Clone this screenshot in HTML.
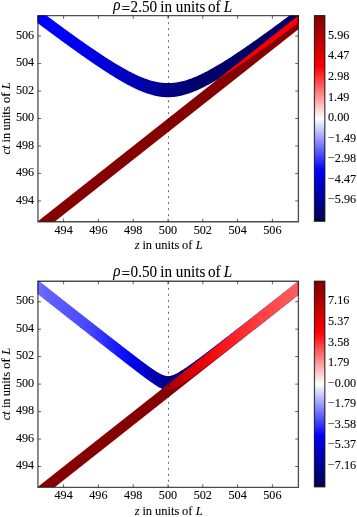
<!DOCTYPE html><html><head><meta charset="utf-8"><style>html,body{margin:0;padding:0;background:#fff;}svg{display:block;will-change:transform;}text{font-family:"Liberation Serif", serif;font-size:12.2px;fill:#000;stroke:#000;stroke-width:0.08px;}</style></head><body>
<svg width="357" height="517" viewBox="0 0 357 517">
<rect width="357" height="517" fill="#fff"/>
<defs><linearGradient id="gbt" gradientUnits="userSpaceOnUse" x1="37.5" y1="0" x2="298.5" y2="0"><stop offset="0.0019" stop-color="rgb(0,0,255)"/><stop offset="0.0862" stop-color="rgb(0,0,250)"/><stop offset="0.2011" stop-color="rgb(0,0,232)"/><stop offset="0.3161" stop-color="rgb(0,0,200)"/><stop offset="0.4310" stop-color="rgb(0,0,160)"/><stop offset="0.5000" stop-color="rgb(0,0,136)"/><stop offset="0.5920" stop-color="rgb(0,0,113)"/><stop offset="0.6686" stop-color="rgb(0,0,103)"/><stop offset="0.7989" stop-color="rgb(0,0,100)"/><stop offset="0.9992" stop-color="rgb(0,0,104)"/></linearGradient><linearGradient id="got" gradientUnits="userSpaceOnUse" x1="37.5" y1="0" x2="298.5" y2="0"><stop offset="0.0019" stop-color="rgb(250,0,0)"/><stop offset="0.9992" stop-color="rgb(250,0,0)"/></linearGradient><linearGradient id="gbb" gradientUnits="userSpaceOnUse" x1="37.5" y1="0" x2="298.5" y2="0"><stop offset="0.0019" stop-color="rgb(112,112,255)"/><stop offset="0.0287" stop-color="rgb(100,100,255)"/><stop offset="0.2011" stop-color="rgb(70,70,255)"/><stop offset="0.3161" stop-color="rgb(20,20,250)"/><stop offset="0.3736" stop-color="rgb(0,0,235)"/><stop offset="0.4119" stop-color="rgb(0,0,205)"/><stop offset="0.4502" stop-color="rgb(0,0,175)"/><stop offset="0.4885" stop-color="rgb(0,0,140)"/><stop offset="0.5153" stop-color="rgb(0,0,125)"/><stop offset="0.6226" stop-color="rgb(0,0,150)"/><stop offset="0.7069" stop-color="rgb(0,0,205)"/><stop offset="0.7950" stop-color="rgb(80,80,255)"/><stop offset="0.9992" stop-color="rgb(150,150,255)"/></linearGradient><linearGradient id="gob" gradientUnits="userSpaceOnUse" x1="37.5" y1="0" x2="298.5" y2="0"><stop offset="0.0019" stop-color="rgb(160,0,0)"/><stop offset="0.5000" stop-color="rgb(160,0,0)"/><stop offset="0.5268" stop-color="rgb(175,0,0)"/><stop offset="0.5651" stop-color="rgb(205,0,0)"/><stop offset="0.6226" stop-color="rgb(230,0,0)"/><stop offset="0.7414" stop-color="rgb(255,30,30)"/><stop offset="0.8563" stop-color="rgb(255,65,65)"/><stop offset="0.9992" stop-color="rgb(255,95,95)"/></linearGradient><linearGradient id="cb0" x1="0" y1="1" x2="0" y2="0"><stop offset="0" stop-color="#00004d"/><stop offset="0.25" stop-color="#0000ff"/><stop offset="0.5" stop-color="#ffffff"/><stop offset="0.75" stop-color="#ff0000"/><stop offset="1" stop-color="#800000"/></linearGradient><clipPath id="clip0"><rect x="37.5" y="15.5" width="261" height="206"/></clipPath><linearGradient id="cb1" x1="0" y1="1" x2="0" y2="0"><stop offset="0" stop-color="#00004d"/><stop offset="0.25" stop-color="#0000ff"/><stop offset="0.5" stop-color="#ffffff"/><stop offset="0.75" stop-color="#ff0000"/><stop offset="1" stop-color="#800000"/></linearGradient><clipPath id="clip1"><rect x="37.5" y="281.1" width="261" height="206"/></clipPath></defs>
<g clip-path="url(#clip0)">
<path d="M11.4 242.1 L324.6 -5.1 L324.6 8.63 L11.4 255.83 Z" fill="rgb(133,0,0)"/>
<path d="M16.62 -6.91 L17.49 -6.25 L18.36 -5.59 L19.23 -4.94 L20.1 -4.28 L20.97 -3.62 L21.84 -2.96 L22.71 -2.3 L23.58 -1.64 L24.45 -0.99 L25.32 -0.33 L26.19 0.33 L27.06 0.98 L27.93 1.64 L28.8 2.3 L29.67 2.95 L30.54 3.61 L31.41 4.26 L32.28 4.91 L33.15 5.57 L34.02 6.22 L34.89 6.87 L35.76 7.53 L36.63 8.18 L37.5 8.83 L38.37 9.48 L39.24 10.13 L40.11 10.78 L40.98 11.43 L41.85 12.08 L42.72 12.73 L43.59 13.38 L44.46 14.03 L45.33 14.67 L46.2 15.32 L47.07 15.97 L47.94 16.61 L48.81 17.26 L49.68 17.9 L50.55 18.55 L51.42 19.19 L52.29 19.83 L53.16 20.48 L54.03 21.12 L54.9 21.76 L55.77 22.4 L56.64 23.04 L57.51 23.68 L58.38 24.32 L59.25 24.96 L60.12 25.59 L60.99 26.23 L61.86 26.87 L62.73 27.5 L63.6 28.13 L64.47 28.77 L65.34 29.4 L66.21 30.03 L67.08 30.66 L67.95 31.29 L68.82 31.92 L69.69 32.55 L70.56 33.18 L71.43 33.81 L72.3 34.43 L73.17 35.06 L74.04 35.68 L74.91 36.3 L75.78 36.92 L76.65 37.54 L77.52 38.16 L78.39 38.78 L79.26 39.4 L80.13 40.01 L81 40.63 L81.87 41.24 L82.74 41.86 L83.61 42.47 L84.48 43.08 L85.35 43.68 L86.22 44.29 L87.09 44.9 L87.96 45.5 L88.83 46.1 L89.7 46.7 L90.57 47.3 L91.44 47.9 L92.31 48.5 L93.18 49.09 L94.05 49.69 L94.92 50.28 L95.79 50.87 L96.66 51.45 L97.53 52.04 L98.4 52.62 L99.27 53.2 L100.14 53.78 L101.01 54.36 L101.88 54.93 L102.75 55.51 L103.62 56.08 L104.49 56.64 L105.36 57.21 L106.23 57.77 L107.1 58.33 L107.97 58.89 L108.84 59.44 L109.71 60 L110.58 60.54 L111.45 61.09 L112.32 61.63 L113.19 62.17 L114.06 62.71 L114.93 63.24 L115.8 63.77 L116.67 64.3 L117.54 64.82 L118.41 65.34 L119.28 65.85 L120.15 66.36 L121.02 66.87 L121.89 67.37 L122.76 67.87 L123.63 68.36 L124.5 68.85 L125.37 69.33 L126.24 69.81 L127.11 70.28 L127.98 70.75 L128.85 71.21 L129.72 71.67 L130.59 72.12 L131.46 72.56 L132.33 73 L133.2 73.43 L134.07 73.86 L134.94 74.28 L135.81 74.69 L136.68 75.09 L137.55 75.49 L138.42 75.88 L139.29 76.26 L140.16 76.64 L141.03 77 L141.9 77.36 L142.77 77.71 L143.64 78.05 L144.51 78.38 L145.38 78.7 L146.25 79.02 L147.12 79.32 L147.99 79.61 L148.86 79.89 L149.73 80.16 L150.6 80.42 L151.47 80.67 L152.34 80.91 L153.21 81.14 L154.08 81.35 L154.95 81.56 L155.82 81.75 L156.69 81.93 L157.56 82.09 L158.43 82.25 L159.3 82.39 L160.17 82.52 L161.04 82.63 L161.91 82.73 L162.78 82.82 L163.65 82.9 L164.52 82.96 L165.39 83.01 L166.26 83.04 L167.13 83.06 L168 83.07 L168.87 83.06 L169.74 83.04 L170.61 83.01 L171.48 82.96 L172.35 82.9 L173.22 82.82 L174.09 82.73 L174.96 82.63 L175.83 82.52 L176.7 82.39 L177.57 82.25 L178.44 82.09 L179.31 81.93 L180.18 81.75 L181.05 81.56 L181.92 81.35 L182.79 81.14 L183.66 80.91 L184.53 80.67 L185.4 80.42 L186.27 80.16 L187.14 79.89 L188.01 79.61 L188.88 79.32 L189.75 79.02 L190.62 78.7 L191.49 78.38 L192.36 78.05 L193.23 77.71 L194.1 77.36 L194.97 77 L195.84 76.64 L196.71 76.26 L197.58 75.88 L198.45 75.49 L199.32 75.09 L200.19 74.69 L201.06 74.28 L201.93 73.86 L202.8 73.43 L203.67 73 L204.54 72.56 L205.41 72.12 L206.28 71.67 L207.15 71.21 L208.02 70.75 L208.89 70.28 L209.76 69.81 L210.63 69.33 L211.5 68.85 L212.37 68.36 L213.24 67.87 L214.11 67.37 L214.98 66.87 L215.85 66.36 L216.72 65.85 L217.59 65.34 L218.46 64.82 L219.33 64.3 L220.2 63.77 L221.07 63.24 L221.94 62.71 L222.81 62.17 L223.68 61.63 L224.55 61.09 L225.42 60.54 L226.29 60 L227.16 59.44 L228.03 58.89 L228.9 58.33 L229.77 57.77 L230.64 57.21 L231.51 56.64 L232.38 56.08 L233.25 55.51 L234.12 54.93 L234.99 54.36 L235.86 53.78 L236.73 53.2 L237.6 52.62 L238.47 52.04 L239.34 51.45 L240.21 50.87 L241.08 50.28 L241.95 49.69 L242.82 49.09 L243.69 48.5 L244.56 47.9 L245.43 47.3 L246.3 46.7 L247.17 46.1 L248.04 45.5 L248.91 44.9 L249.78 44.29 L250.65 43.68 L251.52 43.08 L252.39 42.47 L253.26 41.86 L254.13 41.24 L255 40.63 L255.87 40.01 L256.74 39.4 L257.61 38.78 L258.48 38.16 L259.35 37.54 L260.22 36.92 L261.09 36.3 L261.96 35.68 L262.83 35.06 L263.7 34.43 L264.57 33.81 L265.44 33.18 L266.31 32.55 L267.18 31.92 L268.05 31.29 L268.92 30.66 L269.79 30.03 L270.66 29.4 L271.53 28.77 L272.4 28.13 L273.27 27.5 L274.14 26.87 L275.01 26.23 L275.88 25.59 L276.75 24.96 L277.62 24.32 L278.49 23.68 L279.36 23.04 L280.23 22.4 L281.1 21.76 L281.97 21.12 L282.84 20.48 L283.71 19.83 L284.58 19.19 L285.45 18.55 L286.32 17.9 L287.19 17.26 L288.06 16.61 L288.93 15.97 L289.8 15.32 L290.67 14.67 L291.54 14.03 L292.41 13.38 L293.28 12.73 L294.15 12.08 L295.02 11.43 L295.89 10.78 L296.76 10.13 L297.63 9.48 L298.5 8.83 L299.37 8.18 L300.24 7.53 L301.11 6.87 L301.98 6.22 L302.85 5.57 L303.72 4.91 L304.59 4.26 L305.46 3.61 L306.33 2.95 L307.2 2.3 L308.07 1.64 L308.94 0.98 L309.81 0.33 L310.68 -0.33 L311.55 -0.99 L312.42 -1.64 L313.29 -2.3 L314.16 -2.96 L315.03 -3.62 L315.9 -4.28 L316.77 -4.94 L317.64 -5.59 L318.51 -6.25 L318.51 7.89 L317.64 8.55 L316.77 9.21 L315.9 9.87 L315.03 10.53 L314.16 11.19 L313.29 11.84 L312.42 12.5 L311.55 13.16 L310.68 13.82 L309.81 14.47 L308.94 15.13 L308.07 15.78 L307.2 16.44 L306.33 17.1 L305.46 17.75 L304.59 18.4 L303.72 19.06 L302.85 19.71 L301.98 20.37 L301.11 21.02 L300.24 21.67 L299.37 22.32 L298.5 22.98 L297.63 23.63 L296.76 24.28 L295.89 24.93 L295.02 25.58 L294.15 26.23 L293.28 26.88 L292.41 27.52 L291.54 28.17 L290.67 28.82 L289.8 29.47 L288.93 30.11 L288.06 30.76 L287.19 31.4 L286.32 32.05 L285.45 32.69 L284.58 33.34 L283.71 33.98 L282.84 34.62 L281.97 35.26 L281.1 35.91 L280.23 36.55 L279.36 37.19 L278.49 37.82 L277.62 38.46 L276.75 39.1 L275.88 39.74 L275.01 40.38 L274.14 41.01 L273.27 41.65 L272.4 42.28 L271.53 42.91 L270.66 43.55 L269.79 44.18 L268.92 44.81 L268.05 45.44 L267.18 46.07 L266.31 46.7 L265.44 47.32 L264.57 47.95 L263.7 48.58 L262.83 49.2 L261.96 49.82 L261.09 50.45 L260.22 51.07 L259.35 51.69 L258.48 52.31 L257.61 52.93 L256.74 53.54 L255.87 54.16 L255 54.77 L254.13 55.39 L253.26 56 L252.39 56.61 L251.52 57.22 L250.65 57.83 L249.78 58.44 L248.91 59.04 L248.04 59.65 L247.17 60.25 L246.3 60.85 L245.43 61.45 L244.56 62.05 L243.69 62.64 L242.82 63.24 L241.95 63.83 L241.08 64.42 L240.21 65.01 L239.34 65.6 L238.47 66.18 L237.6 66.77 L236.73 67.35 L235.86 67.93 L234.99 68.5 L234.12 69.08 L233.25 69.65 L232.38 70.22 L231.51 70.79 L230.64 71.35 L229.77 71.92 L228.9 72.48 L228.03 73.03 L227.16 73.59 L226.29 74.14 L225.42 74.69 L224.55 75.24 L223.68 75.78 L222.81 76.32 L221.94 76.85 L221.07 77.39 L220.2 77.92 L219.33 78.44 L218.46 78.96 L217.59 79.48 L216.72 80 L215.85 80.51 L214.98 81.01 L214.11 81.51 L213.24 82.01 L212.37 82.5 L211.5 82.99 L210.63 83.48 L209.76 83.95 L208.89 84.43 L208.02 84.89 L207.15 85.36 L206.28 85.81 L205.41 86.26 L204.54 86.71 L203.67 87.15 L202.8 87.58 L201.93 88 L201.06 88.42 L200.19 88.84 L199.32 89.24 L198.45 89.64 L197.58 90.03 L196.71 90.41 L195.84 90.78 L194.97 91.15 L194.1 91.51 L193.23 91.86 L192.36 92.2 L191.49 92.53 L190.62 92.85 L189.75 93.16 L188.88 93.46 L188.01 93.76 L187.14 94.04 L186.27 94.31 L185.4 94.57 L184.53 94.82 L183.66 95.06 L182.79 95.28 L181.92 95.5 L181.05 95.7 L180.18 95.89 L179.31 96.07 L178.44 96.24 L177.57 96.39 L176.7 96.53 L175.83 96.66 L174.96 96.78 L174.09 96.88 L173.22 96.97 L172.35 97.04 L171.48 97.1 L170.61 97.15 L169.74 97.19 L168.87 97.21 L168 97.21 L167.13 97.21 L166.26 97.19 L165.39 97.15 L164.52 97.1 L163.65 97.04 L162.78 96.97 L161.91 96.88 L161.04 96.78 L160.17 96.66 L159.3 96.53 L158.43 96.39 L157.56 96.24 L156.69 96.07 L155.82 95.89 L154.95 95.7 L154.08 95.5 L153.21 95.28 L152.34 95.06 L151.47 94.82 L150.6 94.57 L149.73 94.31 L148.86 94.04 L147.99 93.76 L147.12 93.46 L146.25 93.16 L145.38 92.85 L144.51 92.53 L143.64 92.2 L142.77 91.86 L141.9 91.51 L141.03 91.15 L140.16 90.78 L139.29 90.41 L138.42 90.03 L137.55 89.64 L136.68 89.24 L135.81 88.84 L134.94 88.42 L134.07 88 L133.2 87.58 L132.33 87.15 L131.46 86.71 L130.59 86.26 L129.72 85.81 L128.85 85.36 L127.98 84.89 L127.11 84.43 L126.24 83.95 L125.37 83.48 L124.5 82.99 L123.63 82.5 L122.76 82.01 L121.89 81.51 L121.02 81.01 L120.15 80.51 L119.28 80 L118.41 79.48 L117.54 78.96 L116.67 78.44 L115.8 77.92 L114.93 77.39 L114.06 76.85 L113.19 76.32 L112.32 75.78 L111.45 75.24 L110.58 74.69 L109.71 74.14 L108.84 73.59 L107.97 73.03 L107.1 72.48 L106.23 71.92 L105.36 71.35 L104.49 70.79 L103.62 70.22 L102.75 69.65 L101.88 69.08 L101.01 68.5 L100.14 67.93 L99.27 67.35 L98.4 66.77 L97.53 66.18 L96.66 65.6 L95.79 65.01 L94.92 64.42 L94.05 63.83 L93.18 63.24 L92.31 62.64 L91.44 62.05 L90.57 61.45 L89.7 60.85 L88.83 60.25 L87.96 59.65 L87.09 59.04 L86.22 58.44 L85.35 57.83 L84.48 57.22 L83.61 56.61 L82.74 56 L81.87 55.39 L81 54.77 L80.13 54.16 L79.26 53.54 L78.39 52.93 L77.52 52.31 L76.65 51.69 L75.78 51.07 L74.91 50.45 L74.04 49.82 L73.17 49.2 L72.3 48.58 L71.43 47.95 L70.56 47.32 L69.69 46.7 L68.82 46.07 L67.95 45.44 L67.08 44.81 L66.21 44.18 L65.34 43.55 L64.47 42.91 L63.6 42.28 L62.73 41.65 L61.86 41.01 L60.99 40.38 L60.12 39.74 L59.25 39.1 L58.38 38.46 L57.51 37.82 L56.64 37.19 L55.77 36.55 L54.9 35.91 L54.03 35.26 L53.16 34.62 L52.29 33.98 L51.42 33.34 L50.55 32.69 L49.68 32.05 L48.81 31.4 L47.94 30.76 L47.07 30.11 L46.2 29.47 L45.33 28.82 L44.46 28.17 L43.59 27.52 L42.72 26.88 L41.85 26.23 L40.98 25.58 L40.11 24.93 L39.24 24.28 L38.37 23.63 L37.5 22.98 L36.63 22.32 L35.76 21.67 L34.89 21.02 L34.02 20.37 L33.15 19.71 L32.28 19.06 L31.41 18.4 L30.54 17.75 L29.67 17.1 L28.8 16.44 L27.93 15.78 L27.06 15.13 L26.19 14.47 L25.32 13.82 L24.45 13.16 L23.58 12.5 L22.71 11.84 L21.84 11.19 L20.97 10.53 L20.1 9.87 L19.23 9.21 L18.36 8.55 L17.49 7.89 L16.62 7.23 Z" fill="url(#gbt)"/>
<path d="M217.59 79.36 L218.46 78.67 L219.33 77.99 L220.2 77.3 L221.07 76.61 L221.94 75.93 L222.81 75.24 L223.68 74.55 L224.55 73.87 L225.42 73.18 L226.29 72.49 L227.16 71.81 L228.03 71.12 L228.9 70.43 L229.77 69.75 L230.64 69.06 L231.51 68.37 L232.38 67.69 L233.25 67 L234.12 66.31 L234.99 65.63 L235.86 64.94 L236.73 64.25 L237.6 63.57 L238.47 62.88 L239.34 62.19 L240.21 61.51 L241.08 60.82 L241.95 60.13 L242.82 59.45 L243.69 58.76 L244.56 58.07 L245.43 57.39 L246.3 56.7 L247.17 56.01 L248.04 55.33 L248.91 54.64 L249.78 53.95 L250.65 53.27 L251.52 52.58 L252.39 51.89 L253.26 51.21 L254.13 50.52 L255 49.83 L255.87 49.15 L256.74 48.46 L257.61 47.77 L258.48 47.09 L259.35 46.4 L260.22 45.71 L261.09 45.03 L261.96 44.34 L262.83 43.65 L263.7 42.97 L264.57 42.28 L265.44 41.59 L266.31 40.91 L267.18 40.22 L268.05 39.53 L268.92 38.85 L269.79 38.16 L270.66 37.47 L271.53 36.79 L272.4 36.1 L273.27 35.41 L274.14 34.73 L275.01 34.04 L275.88 33.35 L276.75 32.67 L277.62 31.98 L278.49 31.29 L279.36 30.61 L280.23 29.92 L281.1 29.23 L281.97 28.55 L282.84 27.86 L283.71 27.17 L284.58 26.49 L285.45 25.8 L286.32 25.11 L287.19 24.43 L288.06 23.74 L288.93 23.05 L289.8 22.37 L290.67 21.68 L291.54 20.99 L292.41 20.31 L293.28 19.62 L294.15 18.93 L295.02 18.25 L295.89 17.56 L296.76 16.87 L297.63 16.19 L298.5 15.5 L299.37 14.81 L300.24 14.13 L301.11 13.44 L301.98 12.75 L302.85 12.07 L303.72 11.38 L304.59 10.69 L305.46 10.01 L306.33 9.32 L307.2 8.63 L308.07 7.95 L308.94 7.26 L309.81 6.57 L310.68 5.89 L311.55 5.2 L312.42 4.51 L313.29 3.83 L314.16 3.14 L315.03 2.45 L315.9 1.77 L316.77 1.08 L317.64 0.39 L318.51 -0.29 L318.51 7.89 L317.64 8.55 L316.77 9.21 L315.9 9.87 L315.03 10.53 L314.16 11.19 L313.29 11.84 L312.42 12.5 L311.55 13.16 L310.68 13.82 L309.81 14.47 L308.94 15.13 L308.07 15.78 L307.2 16.44 L306.33 17.1 L305.46 17.75 L304.59 18.4 L303.72 19.06 L302.85 19.71 L301.98 20.37 L301.11 21.02 L300.24 21.67 L299.37 22.32 L298.5 22.98 L297.63 23.63 L296.76 24.28 L295.89 24.93 L295.02 25.58 L294.15 26.23 L293.28 26.88 L292.41 27.52 L291.54 28.17 L290.67 28.82 L289.8 29.47 L288.93 30.11 L288.06 30.76 L287.19 31.4 L286.32 32.05 L285.45 32.69 L284.58 33.34 L283.71 33.98 L282.84 34.62 L281.97 35.26 L281.1 35.91 L280.23 36.55 L279.36 37.19 L278.49 37.82 L277.62 38.46 L276.75 39.1 L275.88 39.74 L275.01 40.38 L274.14 41.01 L273.27 41.65 L272.4 42.28 L271.53 42.91 L270.66 43.55 L269.79 44.18 L268.92 44.81 L268.05 45.44 L267.18 46.07 L266.31 46.7 L265.44 47.32 L264.57 47.95 L263.7 48.58 L262.83 49.2 L261.96 49.82 L261.09 50.45 L260.22 51.07 L259.35 51.69 L258.48 52.31 L257.61 52.93 L256.74 53.54 L255.87 54.16 L255 54.77 L254.13 55.39 L253.26 56 L252.39 56.61 L251.52 57.22 L250.65 57.83 L249.78 58.44 L248.91 59.04 L248.04 59.65 L247.17 60.25 L246.3 60.85 L245.43 61.45 L244.56 62.05 L243.69 62.64 L242.82 63.24 L241.95 63.83 L241.08 64.42 L240.21 65.01 L239.34 65.6 L238.47 66.18 L237.6 66.77 L236.73 67.35 L235.86 67.93 L234.99 68.5 L234.12 69.08 L233.25 69.65 L232.38 70.22 L231.51 70.79 L230.64 71.35 L229.77 71.92 L228.9 72.48 L228.03 73.03 L227.16 73.59 L226.29 74.14 L225.42 74.69 L224.55 75.24 L223.68 75.78 L222.81 76.32 L221.94 76.85 L221.07 77.39 L220.2 77.92 L219.33 78.44 L218.46 78.96 L217.59 79.48 Z" fill="url(#got)"/>
<line x1="168.5" y1="221.5" x2="168.5" y2="15.5" stroke="#000" stroke-opacity="0.58" stroke-width="1" stroke-dasharray="2 4" stroke-dashoffset="-5.3"/>
</g>
<path d="M63.6 221.75v-3.2M63.6 15.65v3.2M37.95 200.9h3.2M298.4 200.9h-3.2M98.4 221.75v-3.2M98.4 15.65v3.2M37.95 173.43h3.2M298.4 173.43h-3.2M133.2 221.75v-3.2M133.2 15.65v3.2M37.95 145.97h3.2M298.4 145.97h-3.2M168 221.75v-3.2M168 15.65v3.2M37.95 118.5h3.2M298.4 118.5h-3.2M202.8 221.75v-3.2M202.8 15.65v3.2M37.95 91.03h3.2M298.4 91.03h-3.2M237.6 221.75v-3.2M237.6 15.65v3.2M37.95 63.57h3.2M298.4 63.57h-3.2M272.4 221.75v-3.2M272.4 15.65v3.2M37.95 36.1h3.2M298.4 36.1h-3.2" stroke="#000" stroke-width="0.6" fill="none"/>
<path d="M37.95 15.65H298.4V221.75H37.95Z" fill="none" stroke="#000" stroke-opacity="0.7" stroke-width="1.3" stroke-linejoin="miter"/>
<text x="63.6" y="233.8" text-anchor="middle">494</text>
<text x="34.2" y="203.6" text-anchor="end">494</text>
<text x="98.4" y="233.8" text-anchor="middle">496</text>
<text x="34.2" y="176.13" text-anchor="end">496</text>
<text x="133.2" y="233.8" text-anchor="middle">498</text>
<text x="34.2" y="148.67" text-anchor="end">498</text>
<text x="168" y="233.8" text-anchor="middle">500</text>
<text x="34.2" y="121.2" text-anchor="end">500</text>
<text x="202.8" y="233.8" text-anchor="middle">502</text>
<text x="34.2" y="93.73" text-anchor="end">502</text>
<text x="237.6" y="233.8" text-anchor="middle">504</text>
<text x="34.2" y="66.27" text-anchor="end">504</text>
<text x="272.4" y="233.8" text-anchor="middle">506</text>
<text x="34.2" y="38.8" text-anchor="end">506</text>
<text y="249.1" style="font-size:12.5px"><tspan x="134.7" font-style="italic">z</tspan><tspan x="142.4">in</tspan><tspan x="155">units</tspan><tspan x="181.9">of</tspan><tspan x="195.7" font-style="italic">L</tspan></text>
<text transform="translate(9.6 154.6) rotate(-90)" style="font-size:12.5px"><tspan x="0" font-style="italic">ct</tspan><tspan x="12.1">in</tspan><tspan x="24">units</tspan><tspan x="51.5">of</tspan><tspan x="65.4" font-style="italic">L</tspan></text>
<text transform="translate(112 0) scale(0.95 1)" style="font-size:16px"><tspan x="1.26" y="10.4" font-style="italic">ρ</tspan><tspan x="10.11" y="13.9">=</tspan><tspan x="19.58" y="11.7">2.50</tspan><tspan x="50.74" y="11.7">in</tspan><tspan x="67.16" y="11.7">units</tspan><tspan x="101.05" y="11.7">of</tspan><tspan x="117.68" y="11.7" font-style="italic">L</tspan></text>
<rect x="314.45" y="15.6" width="10.4" height="205.65" fill="url(#cb0)"/>
<rect x="314.45" y="15.6" width="10.4" height="205.65" fill="none" stroke="#000" stroke-opacity="0.72" stroke-width="1.25"/>
<text x="328" y="38.86">5.96</text>
<text x="328" y="59.43">4.47</text>
<text x="328" y="79.99">2.98</text>
<text x="328" y="100.56">1.49</text>
<text x="328" y="121.12">0.00</text>
<text x="328" y="141.69">−1.49</text>
<text x="328" y="162.25">−2.98</text>
<text x="328" y="182.82">−4.47</text>
<text x="328" y="203.38">−5.96</text>
<g clip-path="url(#clip1)">
<path d="M11.4 507.7 L324.6 260.5 L324.6 274.23 L11.4 521.43 Z" fill="rgb(133,0,0)"/>
<path d="M16.62 263.32 L17.49 264.01 L18.36 264.7 L19.23 265.38 L20.1 266.07 L20.97 266.75 L21.84 267.44 L22.71 268.12 L23.58 268.81 L24.45 269.49 L25.32 270.18 L26.19 270.86 L27.06 271.55 L27.93 272.23 L28.8 272.92 L29.67 273.61 L30.54 274.29 L31.41 274.98 L32.28 275.66 L33.15 276.35 L34.02 277.03 L34.89 277.72 L35.76 278.4 L36.63 279.09 L37.5 279.77 L38.37 280.46 L39.24 281.14 L40.11 281.83 L40.98 282.51 L41.85 283.2 L42.72 283.88 L43.59 284.57 L44.46 285.25 L45.33 285.94 L46.2 286.62 L47.07 287.31 L47.94 287.99 L48.81 288.68 L49.68 289.36 L50.55 290.05 L51.42 290.73 L52.29 291.42 L53.16 292.1 L54.03 292.79 L54.9 293.47 L55.77 294.16 L56.64 294.84 L57.51 295.52 L58.38 296.21 L59.25 296.89 L60.12 297.58 L60.99 298.26 L61.86 298.95 L62.73 299.63 L63.6 300.32 L64.47 301 L65.34 301.68 L66.21 302.37 L67.08 303.05 L67.95 303.74 L68.82 304.42 L69.69 305.1 L70.56 305.79 L71.43 306.47 L72.3 307.16 L73.17 307.84 L74.04 308.52 L74.91 309.21 L75.78 309.89 L76.65 310.58 L77.52 311.26 L78.39 311.94 L79.26 312.63 L80.13 313.31 L81 313.99 L81.87 314.68 L82.74 315.36 L83.61 316.04 L84.48 316.72 L85.35 317.41 L86.22 318.09 L87.09 318.77 L87.96 319.46 L88.83 320.14 L89.7 320.82 L90.57 321.5 L91.44 322.19 L92.31 322.87 L93.18 323.55 L94.05 324.23 L94.92 324.91 L95.79 325.6 L96.66 326.28 L97.53 326.96 L98.4 327.64 L99.27 328.32 L100.14 329 L101.01 329.68 L101.88 330.36 L102.75 331.05 L103.62 331.73 L104.49 332.41 L105.36 333.09 L106.23 333.77 L107.1 334.45 L107.97 335.13 L108.84 335.81 L109.71 336.49 L110.58 337.16 L111.45 337.84 L112.32 338.52 L113.19 339.2 L114.06 339.88 L114.93 340.56 L115.8 341.23 L116.67 341.91 L117.54 342.59 L118.41 343.26 L119.28 343.94 L120.15 344.62 L121.02 345.29 L121.89 345.97 L122.76 346.64 L123.63 347.31 L124.5 347.99 L125.37 348.66 L126.24 349.33 L127.11 350.01 L127.98 350.68 L128.85 351.35 L129.72 352.02 L130.59 352.69 L131.46 353.36 L132.33 354.02 L133.2 354.69 L134.07 355.36 L134.94 356.02 L135.81 356.68 L136.68 357.35 L137.55 358.01 L138.42 358.67 L139.29 359.32 L140.16 359.98 L141.03 360.63 L141.9 361.29 L142.77 361.94 L143.64 362.59 L144.51 363.23 L145.38 363.87 L146.25 364.51 L147.12 365.15 L147.99 365.78 L148.86 366.41 L149.73 367.03 L150.6 367.65 L151.47 368.26 L152.34 368.86 L153.21 369.46 L154.08 370.05 L154.95 370.62 L155.82 371.19 L156.69 371.74 L157.56 372.28 L158.43 372.79 L159.3 373.29 L160.17 373.76 L161.04 374.21 L161.91 374.62 L162.78 374.99 L163.65 375.32 L164.52 375.61 L165.39 375.83 L166.26 376 L167.13 376.1 L168 376.13 L168.87 376.1 L169.74 376 L170.61 375.84 L171.48 375.62 L172.35 375.35 L173.22 375.03 L174.09 374.67 L174.96 374.27 L175.83 373.84 L176.7 373.39 L177.57 372.91 L178.44 372.41 L179.31 371.9 L180.18 371.37 L181.05 370.83 L181.92 370.28 L182.79 369.71 L183.66 369.14 L184.53 368.57 L185.4 367.98 L186.27 367.39 L187.14 366.8 L188.01 366.19 L188.88 365.59 L189.75 364.98 L190.62 364.37 L191.49 363.75 L192.36 363.13 L193.23 362.5 L194.1 361.88 L194.97 361.25 L195.84 360.61 L196.71 359.98 L197.58 359.34 L198.45 358.7 L199.32 358.06 L200.19 357.41 L201.06 356.77 L201.93 356.12 L202.8 355.47 L203.67 354.81 L204.54 354.16 L205.41 353.5 L206.28 352.84 L207.15 352.18 L208.02 351.52 L208.89 350.86 L209.76 350.2 L210.63 349.53 L211.5 348.86 L212.37 348.2 L213.24 347.53 L214.11 346.86 L214.98 346.19 L215.85 345.52 L216.72 344.84 L217.59 344.17 L218.46 343.5 L219.33 342.82 L220.2 342.15 L221.07 341.47 L221.94 340.8 L222.81 340.12 L223.68 339.45 L224.55 338.77 L225.42 338.09 L226.29 337.41 L227.16 336.73 L228.03 336.06 L228.9 335.38 L229.77 334.7 L230.64 334.02 L231.51 333.34 L232.38 332.66 L233.25 331.98 L234.12 331.3 L234.99 330.62 L235.86 329.94 L236.73 329.25 L237.6 328.57 L238.47 327.89 L239.34 327.21 L240.21 326.53 L241.08 325.85 L241.95 325.17 L242.82 324.48 L243.69 323.8 L244.56 323.12 L245.43 322.44 L246.3 321.75 L247.17 321.07 L248.04 320.39 L248.91 319.71 L249.78 319.02 L250.65 318.34 L251.52 317.66 L252.39 316.98 L253.26 316.29 L254.13 315.61 L255 314.93 L255.87 314.24 L256.74 313.56 L257.61 312.88 L258.48 312.19 L259.35 311.51 L260.22 310.83 L261.09 310.14 L261.96 309.46 L262.83 308.77 L263.7 308.09 L264.57 307.41 L265.44 306.72 L266.31 306.04 L267.18 305.35 L268.05 304.67 L268.92 303.99 L269.79 303.3 L270.66 302.62 L271.53 301.93 L272.4 301.25 L273.27 300.57 L274.14 299.88 L275.01 299.2 L275.88 298.51 L276.75 297.83 L277.62 297.14 L278.49 296.46 L279.36 295.77 L280.23 295.09 L281.1 294.4 L281.97 293.72 L282.84 293.04 L283.71 292.35 L284.58 291.67 L285.45 290.98 L286.32 290.3 L287.19 289.61 L288.06 288.93 L288.93 288.24 L289.8 287.56 L290.67 286.87 L291.54 286.19 L292.41 285.5 L293.28 284.82 L294.15 284.13 L295.02 283.45 L295.89 282.76 L296.76 282.08 L297.63 281.39 L298.5 280.71 L299.37 280.02 L300.24 279.34 L301.11 278.65 L301.98 277.97 L302.85 277.28 L303.72 276.6 L304.59 275.91 L305.46 275.22 L306.33 274.54 L307.2 273.85 L308.07 273.17 L308.94 272.48 L309.81 271.8 L310.68 271.11 L311.55 270.43 L312.42 269.74 L313.29 269.06 L314.16 268.37 L315.03 267.69 L315.9 267 L316.77 266.31 L317.64 265.63 L318.51 264.94 L318.51 278.74 L317.64 279.42 L316.77 280.11 L315.9 280.8 L315.03 281.48 L314.16 282.17 L313.29 282.85 L312.42 283.54 L311.55 284.22 L310.68 284.91 L309.81 285.59 L308.94 286.28 L308.07 286.96 L307.2 287.65 L306.33 288.33 L305.46 289.02 L304.59 289.71 L303.72 290.39 L302.85 291.08 L301.98 291.76 L301.11 292.45 L300.24 293.13 L299.37 293.82 L298.5 294.5 L297.63 295.19 L296.76 295.87 L295.89 296.56 L295.02 297.24 L294.15 297.93 L293.28 298.61 L292.41 299.3 L291.54 299.98 L290.67 300.67 L289.8 301.35 L288.93 302.04 L288.06 302.72 L287.19 303.41 L286.32 304.09 L285.45 304.78 L284.58 305.46 L283.71 306.15 L282.84 306.83 L281.97 307.52 L281.1 308.2 L280.23 308.88 L279.36 309.57 L278.49 310.25 L277.62 310.94 L276.75 311.62 L275.88 312.31 L275.01 312.99 L274.14 313.68 L273.27 314.36 L272.4 315.04 L271.53 315.73 L270.66 316.41 L269.79 317.1 L268.92 317.78 L268.05 318.47 L267.18 319.15 L266.31 319.83 L265.44 320.52 L264.57 321.2 L263.7 321.89 L262.83 322.57 L261.96 323.25 L261.09 323.94 L260.22 324.62 L259.35 325.3 L258.48 325.99 L257.61 326.67 L256.74 327.35 L255.87 328.04 L255 328.72 L254.13 329.4 L253.26 330.09 L252.39 330.77 L251.52 331.45 L250.65 332.14 L249.78 332.82 L248.91 333.5 L248.04 334.18 L247.17 334.87 L246.3 335.55 L245.43 336.23 L244.56 336.91 L243.69 337.6 L242.82 338.28 L241.95 338.96 L241.08 339.64 L240.21 340.32 L239.34 341.01 L238.47 341.69 L237.6 342.37 L236.73 343.05 L235.86 343.73 L234.99 344.41 L234.12 345.09 L233.25 345.77 L232.38 346.45 L231.51 347.13 L230.64 347.81 L229.77 348.49 L228.9 349.17 L228.03 349.85 L227.16 350.53 L226.29 351.21 L225.42 351.89 L224.55 352.57 L223.68 353.24 L222.81 353.92 L221.94 354.6 L221.07 355.28 L220.2 355.95 L219.33 356.63 L218.46 357.3 L217.59 357.98 L216.72 358.65 L215.85 359.32 L214.98 360 L214.11 360.67 L213.24 361.34 L212.37 362.01 L211.5 362.68 L210.63 363.35 L209.76 364.02 L208.89 364.68 L208.02 365.35 L207.15 366.02 L206.28 366.68 L205.41 367.34 L204.54 368 L203.67 368.66 L202.8 369.32 L201.93 369.98 L201.06 370.63 L200.19 371.28 L199.32 371.94 L198.45 372.59 L197.58 373.23 L196.71 373.88 L195.84 374.52 L194.97 375.16 L194.1 375.8 L193.23 376.44 L192.36 377.07 L191.49 377.7 L190.62 378.33 L189.75 378.95 L188.88 379.57 L188.01 380.18 L187.14 380.8 L186.27 381.4 L185.4 382 L184.53 382.6 L183.66 383.18 L182.79 383.76 L181.92 384.34 L181.05 384.9 L180.18 385.45 L179.31 385.98 L178.44 386.51 L177.57 387.01 L176.7 387.5 L175.83 387.96 L174.96 388.39 L174.09 388.8 L173.22 389.16 L172.35 389.49 L171.48 389.76 L170.61 389.98 L169.74 390.15 L168.87 390.25 L168 390.28 L167.13 390.25 L166.26 390.14 L165.39 389.98 L164.52 389.75 L163.65 389.47 L162.78 389.14 L161.91 388.76 L161.04 388.35 L160.17 387.91 L159.3 387.44 L158.43 386.94 L157.56 386.42 L156.69 385.88 L155.82 385.33 L154.95 384.77 L154.08 384.19 L153.21 383.6 L152.34 383.01 L151.47 382.4 L150.6 381.79 L149.73 381.18 L148.86 380.55 L147.99 379.93 L147.12 379.29 L146.25 378.66 L145.38 378.02 L144.51 377.38 L143.64 376.73 L142.77 376.08 L141.9 375.43 L141.03 374.78 L140.16 374.13 L139.29 373.47 L138.42 372.81 L137.55 372.15 L136.68 371.49 L135.81 370.83 L134.94 370.16 L134.07 369.5 L133.2 368.83 L132.33 368.17 L131.46 367.5 L130.59 366.83 L129.72 366.16 L128.85 365.49 L127.98 364.82 L127.11 364.15 L126.24 363.48 L125.37 362.81 L124.5 362.13 L123.63 361.46 L122.76 360.79 L121.89 360.11 L121.02 359.44 L120.15 358.76 L119.28 358.09 L118.41 357.41 L117.54 356.73 L116.67 356.06 L115.8 355.38 L114.93 354.7 L114.06 354.02 L113.19 353.35 L112.32 352.67 L111.45 351.99 L110.58 351.31 L109.71 350.63 L108.84 349.95 L107.97 349.27 L107.1 348.59 L106.23 347.91 L105.36 347.23 L104.49 346.55 L103.62 345.87 L102.75 345.19 L101.88 344.51 L101.01 343.83 L100.14 343.15 L99.27 342.47 L98.4 341.79 L97.53 341.1 L96.66 340.42 L95.79 339.74 L94.92 339.06 L94.05 338.38 L93.18 337.7 L92.31 337.01 L91.44 336.33 L90.57 335.65 L89.7 334.97 L88.83 334.28 L87.96 333.6 L87.09 332.92 L86.22 332.24 L85.35 331.55 L84.48 330.87 L83.61 330.19 L82.74 329.5 L81.87 328.82 L81 328.14 L80.13 327.45 L79.26 326.77 L78.39 326.09 L77.52 325.4 L76.65 324.72 L75.78 324.04 L74.91 323.35 L74.04 322.67 L73.17 321.99 L72.3 321.3 L71.43 320.62 L70.56 319.93 L69.69 319.25 L68.82 318.57 L67.95 317.88 L67.08 317.2 L66.21 316.51 L65.34 315.83 L64.47 315.15 L63.6 314.46 L62.73 313.78 L61.86 313.09 L60.99 312.41 L60.12 311.72 L59.25 311.04 L58.38 310.35 L57.51 309.67 L56.64 308.99 L55.77 308.3 L54.9 307.62 L54.03 306.93 L53.16 306.25 L52.29 305.56 L51.42 304.88 L50.55 304.19 L49.68 303.51 L48.81 302.82 L47.94 302.14 L47.07 301.45 L46.2 300.77 L45.33 300.08 L44.46 299.4 L43.59 298.71 L42.72 298.03 L41.85 297.34 L40.98 296.66 L40.11 295.97 L39.24 295.29 L38.37 294.6 L37.5 293.92 L36.63 293.23 L35.76 292.55 L34.89 291.86 L34.02 291.18 L33.15 290.49 L32.28 289.81 L31.41 289.12 L30.54 288.44 L29.67 287.75 L28.8 287.07 L27.93 286.38 L27.06 285.69 L26.19 285.01 L25.32 284.32 L24.45 283.64 L23.58 282.95 L22.71 282.27 L21.84 281.58 L20.97 280.9 L20.1 280.21 L19.23 279.53 L18.36 278.84 L17.49 278.16 L16.62 277.47 Z" fill="url(#gbb)"/>
<path d="M162.78 388.22 L163.65 387.53 L164.52 386.85 L165.39 386.16 L166.26 385.47 L167.13 384.79 L168 384.1 L168.87 383.41 L169.74 382.73 L170.61 382.04 L171.48 381.35 L172.35 380.67 L173.22 379.98 L174.09 379.29 L174.96 378.61 L175.83 377.92 L176.7 377.23 L177.57 376.55 L178.44 375.86 L179.31 375.17 L180.18 374.49 L181.05 373.8 L181.92 373.11 L182.79 372.43 L183.66 371.74 L184.53 371.05 L185.4 370.37 L186.27 369.68 L187.14 368.99 L188.01 368.31 L188.88 367.62 L189.75 366.93 L190.62 366.25 L191.49 365.56 L192.36 364.87 L193.23 364.19 L194.1 363.5 L194.97 362.81 L195.84 362.13 L196.71 361.44 L197.58 360.75 L198.45 360.07 L199.32 359.38 L200.19 358.69 L201.06 358.01 L201.93 357.32 L202.8 356.63 L203.67 355.95 L204.54 355.26 L205.41 354.57 L206.28 353.89 L207.15 353.2 L208.02 352.51 L208.89 351.83 L209.76 351.14 L210.63 350.45 L211.5 349.77 L212.37 349.08 L213.24 348.39 L214.11 347.71 L214.98 347.02 L215.85 346.33 L216.72 345.65 L217.59 344.96 L218.46 344.27 L219.33 343.59 L220.2 342.9 L221.07 342.21 L221.94 341.53 L222.81 340.84 L223.68 340.15 L224.55 339.47 L225.42 338.78 L226.29 338.09 L227.16 337.41 L228.03 336.72 L228.9 336.03 L229.77 335.35 L230.64 334.66 L231.51 333.97 L232.38 333.29 L233.25 332.6 L234.12 331.91 L234.99 331.23 L235.86 330.54 L236.73 329.85 L237.6 329.17 L238.47 328.48 L239.34 327.79 L240.21 327.11 L241.08 326.42 L241.95 325.73 L242.82 325.05 L243.69 324.36 L244.56 323.67 L245.43 322.99 L246.3 322.3 L247.17 321.61 L248.04 320.93 L248.91 320.24 L249.78 319.55 L250.65 318.87 L251.52 318.18 L252.39 317.49 L253.26 316.81 L254.13 316.12 L255 315.43 L255.87 314.75 L256.74 314.06 L257.61 313.37 L258.48 312.69 L259.35 312 L260.22 311.31 L261.09 310.63 L261.96 309.94 L262.83 309.25 L263.7 308.57 L264.57 307.88 L265.44 307.19 L266.31 306.51 L267.18 305.82 L268.05 305.13 L268.92 304.45 L269.79 303.76 L270.66 303.07 L271.53 302.39 L272.4 301.7 L273.27 301.01 L274.14 300.33 L275.01 299.64 L275.88 298.95 L276.75 298.27 L277.62 297.58 L278.49 296.89 L279.36 296.21 L280.23 295.52 L281.1 294.83 L281.97 294.15 L282.84 293.46 L283.71 292.77 L284.58 292.09 L285.45 291.4 L286.32 290.71 L287.19 290.03 L288.06 289.34 L288.93 288.65 L289.8 287.97 L290.67 287.28 L291.54 286.59 L292.41 285.91 L293.28 285.22 L294.15 284.53 L295.02 283.85 L295.89 283.16 L296.76 282.47 L297.63 281.79 L298.5 281.1 L299.37 280.41 L300.24 279.73 L301.11 279.04 L301.98 278.35 L302.85 277.67 L303.72 276.98 L304.59 276.29 L305.46 275.61 L306.33 274.92 L307.2 274.23 L308.07 273.55 L308.94 272.86 L309.81 272.17 L310.68 271.49 L311.55 270.8 L312.42 270.11 L313.29 269.43 L314.16 268.74 L315.03 268.05 L315.9 267.37 L316.77 266.68 L317.64 265.99 L318.51 265.31 L318.51 278.74 L317.64 279.42 L316.77 280.11 L315.9 280.8 L315.03 281.48 L314.16 282.17 L313.29 282.85 L312.42 283.54 L311.55 284.22 L310.68 284.91 L309.81 285.59 L308.94 286.28 L308.07 286.96 L307.2 287.65 L306.33 288.33 L305.46 289.02 L304.59 289.71 L303.72 290.39 L302.85 291.08 L301.98 291.76 L301.11 292.45 L300.24 293.13 L299.37 293.82 L298.5 294.5 L297.63 295.19 L296.76 295.87 L295.89 296.56 L295.02 297.24 L294.15 297.93 L293.28 298.61 L292.41 299.3 L291.54 299.98 L290.67 300.67 L289.8 301.35 L288.93 302.04 L288.06 302.72 L287.19 303.41 L286.32 304.09 L285.45 304.78 L284.58 305.46 L283.71 306.15 L282.84 306.83 L281.97 307.52 L281.1 308.2 L280.23 308.88 L279.36 309.57 L278.49 310.25 L277.62 310.94 L276.75 311.62 L275.88 312.31 L275.01 312.99 L274.14 313.68 L273.27 314.36 L272.4 315.04 L271.53 315.73 L270.66 316.41 L269.79 317.1 L268.92 317.78 L268.05 318.47 L267.18 319.15 L266.31 319.83 L265.44 320.52 L264.57 321.2 L263.7 321.89 L262.83 322.57 L261.96 323.25 L261.09 323.94 L260.22 324.62 L259.35 325.3 L258.48 325.99 L257.61 326.67 L256.74 327.35 L255.87 328.04 L255 328.72 L254.13 329.4 L253.26 330.09 L252.39 330.77 L251.52 331.45 L250.65 332.14 L249.78 332.82 L248.91 333.5 L248.04 334.18 L247.17 334.87 L246.3 335.55 L245.43 336.23 L244.56 336.91 L243.69 337.6 L242.82 338.28 L241.95 338.96 L241.08 339.64 L240.21 340.32 L239.34 341.01 L238.47 341.69 L237.6 342.37 L236.73 343.05 L235.86 343.73 L234.99 344.41 L234.12 345.09 L233.25 345.77 L232.38 346.45 L231.51 347.13 L230.64 347.81 L229.77 348.49 L228.9 349.17 L228.03 349.85 L227.16 350.53 L226.29 351.21 L225.42 351.89 L224.55 352.57 L223.68 353.24 L222.81 353.92 L221.94 354.6 L221.07 355.28 L220.2 355.95 L219.33 356.63 L218.46 357.3 L217.59 357.98 L216.72 358.65 L215.85 359.32 L214.98 360 L214.11 360.67 L213.24 361.34 L212.37 362.01 L211.5 362.68 L210.63 363.35 L209.76 364.02 L208.89 364.68 L208.02 365.35 L207.15 366.02 L206.28 366.68 L205.41 367.34 L204.54 368 L203.67 368.66 L202.8 369.32 L201.93 369.98 L201.06 370.63 L200.19 371.28 L199.32 371.94 L198.45 372.59 L197.58 373.23 L196.71 373.88 L195.84 374.52 L194.97 375.16 L194.1 375.8 L193.23 376.44 L192.36 377.07 L191.49 377.7 L190.62 378.33 L189.75 378.95 L188.88 379.57 L188.01 380.18 L187.14 380.8 L186.27 381.4 L185.4 382 L184.53 382.6 L183.66 383.18 L182.79 383.76 L181.92 384.34 L181.05 384.9 L180.18 385.45 L179.31 385.98 L178.44 386.51 L177.57 387.01 L176.7 387.5 L175.83 387.96 L174.96 388.39 L174.09 388.8 L173.22 389.16 L172.35 389.49 L171.48 389.76 L170.61 389.98 L169.74 390.15 L168.87 390.25 L168 390.28 L167.13 390.25 L166.26 390.14 L165.39 389.98 L164.52 389.75 L163.65 389.47 L162.78 389.14 Z" fill="url(#gob)"/>
<line x1="168.5" y1="487.1" x2="168.5" y2="281.1" stroke="#000" stroke-opacity="0.58" stroke-width="1" stroke-dasharray="2 4" stroke-dashoffset="-5.3"/>
</g>
<path d="M63.6 487.35v-3.2M63.6 281.25v3.2M37.95 466.5h3.2M298.4 466.5h-3.2M98.4 487.35v-3.2M98.4 281.25v3.2M37.95 439.03h3.2M298.4 439.03h-3.2M133.2 487.35v-3.2M133.2 281.25v3.2M37.95 411.57h3.2M298.4 411.57h-3.2M168 487.35v-3.2M168 281.25v3.2M37.95 384.1h3.2M298.4 384.1h-3.2M202.8 487.35v-3.2M202.8 281.25v3.2M37.95 356.63h3.2M298.4 356.63h-3.2M237.6 487.35v-3.2M237.6 281.25v3.2M37.95 329.17h3.2M298.4 329.17h-3.2M272.4 487.35v-3.2M272.4 281.25v3.2M37.95 301.7h3.2M298.4 301.7h-3.2" stroke="#000" stroke-width="0.6" fill="none"/>
<path d="M37.95 281.25H298.4V487.35H37.95Z" fill="none" stroke="#000" stroke-opacity="0.7" stroke-width="1.3" stroke-linejoin="miter"/>
<text x="63.6" y="499.4" text-anchor="middle">494</text>
<text x="34.2" y="469.2" text-anchor="end">494</text>
<text x="98.4" y="499.4" text-anchor="middle">496</text>
<text x="34.2" y="441.73" text-anchor="end">496</text>
<text x="133.2" y="499.4" text-anchor="middle">498</text>
<text x="34.2" y="414.27" text-anchor="end">498</text>
<text x="168" y="499.4" text-anchor="middle">500</text>
<text x="34.2" y="386.8" text-anchor="end">500</text>
<text x="202.8" y="499.4" text-anchor="middle">502</text>
<text x="34.2" y="359.33" text-anchor="end">502</text>
<text x="237.6" y="499.4" text-anchor="middle">504</text>
<text x="34.2" y="331.87" text-anchor="end">504</text>
<text x="272.4" y="499.4" text-anchor="middle">506</text>
<text x="34.2" y="304.4" text-anchor="end">506</text>
<text y="514.7" style="font-size:12.5px"><tspan x="134.7" font-style="italic">z</tspan><tspan x="142.4">in</tspan><tspan x="155">units</tspan><tspan x="181.9">of</tspan><tspan x="195.7" font-style="italic">L</tspan></text>
<text transform="translate(9.6 420.2) rotate(-90)" style="font-size:12.5px"><tspan x="0" font-style="italic">ct</tspan><tspan x="12.1">in</tspan><tspan x="24">units</tspan><tspan x="51.5">of</tspan><tspan x="65.4" font-style="italic">L</tspan></text>
<text transform="translate(112 0) scale(0.95 1)" style="font-size:16px"><tspan x="1.26" y="276" font-style="italic">ρ</tspan><tspan x="10.11" y="279.5">=</tspan><tspan x="19.58" y="277.3">0.50</tspan><tspan x="50.74" y="277.3">in</tspan><tspan x="67.16" y="277.3">units</tspan><tspan x="101.05" y="277.3">of</tspan><tspan x="117.68" y="277.3" font-style="italic">L</tspan></text>
<rect x="314.45" y="281.2" width="10.4" height="205.65" fill="url(#cb1)"/>
<rect x="314.45" y="281.2" width="10.4" height="205.65" fill="none" stroke="#000" stroke-opacity="0.72" stroke-width="1.25"/>
<text x="328" y="304.47">7.16</text>
<text x="328" y="325.03">5.37</text>
<text x="328" y="345.6">3.58</text>
<text x="328" y="366.16">1.79</text>
<text x="328" y="386.73">−0.00</text>
<text x="328" y="407.29">−1.79</text>
<text x="328" y="427.86">−3.58</text>
<text x="328" y="448.42">−5.37</text>
<text x="328" y="468.99">−7.16</text>
</svg></body></html>
